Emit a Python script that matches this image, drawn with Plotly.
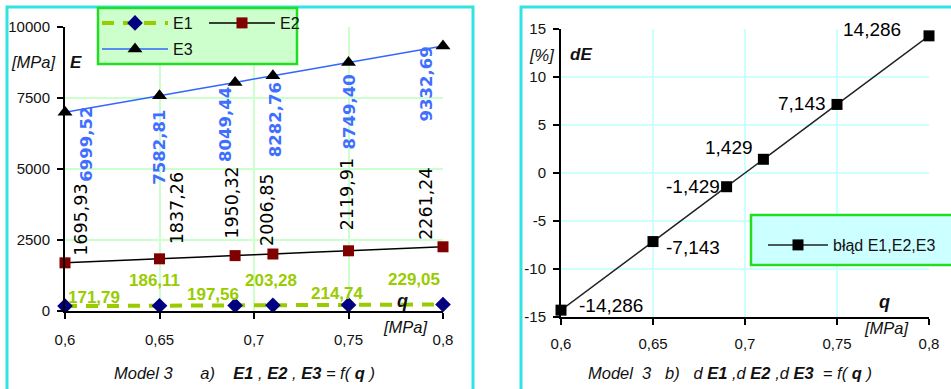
import plotly.graph_objects as go

# ---- data -------------------------------------------------------------
q = [0.6, 0.65, 0.69, 0.71, 0.75, 0.8]
E1 = [171.79, 186.11, 197.56, 203.28, 214.74, 229.05]
E2 = [1695.93, 1837.26, 1950.32, 2006.85, 2119.91, 2261.24]
E3 = [6999.52, 7582.81, 8049.44, 8282.76, 8749.40, 9332.69]
dE = [-14.286, -7.143, -1.429, 1.429, 7.143, 14.286]

x_ticks = [0.6, 0.65, 0.7, 0.75, 0.8]
x_tick_text = ["0,6", "0,65", "0,7", "0,75", "0,8"]
y1_ticks = [0, 2500, 5000, 7500, 10000]
y1_tick_text = ["0", "2500", "5000", "7500", "10000"]
y2_ticks = [-15, -10, -5, 0, 5, 10, 15]
y2_tick_text = ["-15", "-10", "-5", "0", "5", "10", "15"]

# ---- styling -----------------------------------------------------------
W, H = 951, 389
FONT = "Liberation Sans, Arial, sans-serif"
WIDE = "DejaVu Sans, Liberation Sans, sans-serif"
CYAN = "#33e3e3"
GREEN_EDGE = "#22dd22"
C_E1 = "#99cc00"
C_E3 = "#3f6fff"

# label offsets in pixels (dx, dy)
e1_off = [(29, 9), (-5, 25), (-22, 11), (-2, 25), (-11, 11), (-29, 25)]
e2_off = [(16, 5), (17, 12), (-3, 15), (-6, 6), (-2, 18), (-17, 5)]
e3_off = [(22, 7), (0, -12), (-9, -3), (2, -4), (1, -10), (-17, 1)]
de_off = [("left", 16, 5), ("left", 11, -6), ("right", -5, 0),
          ("right", -8, 12), ("right", -9, 1), ("right", -26, 6)]


def px(x):
    return x / W


def py(y):
    return 1 - y / H


def comma(v, nd):
    return f"{v:.{nd}f}".replace(".", ",")


fig = go.Figure()

fig.add_trace(go.Scatter(
    x=q, y=E1, name="E1", mode="lines+markers", legend="legend",
    line=dict(color=C_E1, width=4, dash="12px,9px"),
    marker=dict(symbol="diamond", size=12, color="#000080"),
    cliponaxis=False, xaxis="x", yaxis="y"))
fig.add_trace(go.Scatter(
    x=q, y=E2, name="E2", mode="lines+markers", legend="legend",
    line=dict(color="black", width=1.5, shape="spline", smoothing=0.6),
    marker=dict(symbol="square", size=11, color="#800000"),
    cliponaxis=False, xaxis="x", yaxis="y"))
fig.add_trace(go.Scatter(
    x=q, y=E3, name="E3", mode="lines+markers", legend="legend2",
    line=dict(color="#3366ff", width=1.5, shape="spline", smoothing=0.6),
    marker=dict(symbol="triangle-up", size=13, color="black"),
    cliponaxis=False, xaxis="x", yaxis="y"))
fig.add_trace(go.Scatter(
    x=q, y=dE, name="błąd E1,E2,E3", mode="lines+markers", legend="legend3",
    line=dict(color="#222222", width=1.5, shape="spline", smoothing=0.4),
    marker=dict(symbol="square", size=11, color="black"),
    cliponaxis=False, xaxis="x2", yaxis="y2"))

ann = []
for xi, v, (dx, dy) in zip(q, E1, e1_off):
    ann.append(dict(x=xi, y=v, xref="x", yref="y", text=comma(v, 2),
                    showarrow=False, xanchor="center", yanchor="middle",
                    xshift=dx, yshift=dy,
                    font=dict(family=FONT, size=17, color=C_E1, weight="bold")))
for xi, v, (dx, dy) in zip(q, E2, e2_off):
    ann.append(dict(x=xi, y=v, xref="x", yref="y", text=comma(v, 2),
                    showarrow=False, textangle=-90, xanchor="center",
                    yanchor="bottom", xshift=dx, yshift=dy,
                    font=dict(family=WIDE, size=17.5, color="black")))
for xi, v, (dx, dy) in zip(q, E3, e3_off):
    ann.append(dict(x=xi, y=v, xref="x", yref="y", text=comma(v, 2),
                    showarrow=False, textangle=-90, xanchor="center",
                    yanchor="top", xshift=dx, yshift=dy,
                    font=dict(family=WIDE, size=16.5, color=C_E3, weight="bold")))
for xi, v, (anc, dx, dy) in zip(q, dE, de_off):
    ann.append(dict(x=xi, y=v, xref="x2", yref="y2", text=comma(v, 3),
                    showarrow=False, xanchor=anc, yanchor="middle",
                    xshift=dx, yshift=dy,
                    font=dict(family=FONT, size=19, color="black")))


def label(x, y, text, size=17, anchor="center"):
    ann.append(dict(x=px(x), y=py(y), xref="paper", yref="paper", text=text,
                    showarrow=False, xanchor=anchor, yanchor="middle",
                    font=dict(family=FONT, size=size, color="#111111")))


NB = "\u00a0"
label(33, 62, "<i>[MPa]</i>", 16.5)
label(76, 62, "<b><i>E</i></b>", 17)
label(402, 301, "<b><i>q</i></b>", 18)
label(405, 327, "<i>[MPa]</i>", 16.5)
label(244, 373, "<i>Model 3" + NB * 6 + "a)" + NB * 4 + "<b>E1</b>" + NB + "," + NB
      + "<b>E2</b>" + NB + "," + NB + "<b>E3</b>" + NB + "=" + NB + "f(" + NB
      + "<b>q</b>" + NB + ")</i>", 16.5)
label(541, 55, "<i>[%]</i>", 16.5)
label(581, 55, "<b><i>dE</i></b>", 17)
label(884, 302, "<b><i>q</i></b>", 18)
label(886, 328, "<i>[MPa]</i>", 16.5)
label(730, 373, "<i>Model" + NB * 2 + "3" + NB * 3 + "b)" + NB * 3 + "d" + NB + "<b>E1</b>"
      + NB + ",d" + NB + "<b>E2</b>" + NB + ",d" + NB + "<b>E3</b>" + NB * 2 + "="
      + NB + "f(" + NB + "<b>q</b>" + NB + ")</i>", 16.5)


def rect(x0, y0, x1, y1, line, fill="rgba(0,0,0,0)", width=3):
    return dict(type="rect", xref="paper", yref="paper",
                x0=px(x0), x1=px(x1), y0=py(y1), y1=py(y0),
                line=dict(color=line, width=width), fillcolor=fill, layer="above")


shapes = [
    rect(7, 7, 473, 420, CYAN),
    rect(521, 7, 1000, 420, CYAN),
    rect(98, 8, 297, 64, GREEN_EDGE, "#ccffcc", 2.5),
    rect(751, 215, 1000, 265, GREEN_EDGE, "#ccffff", 2.5),
]

axis_common = dict(showline=True, linecolor="black", linewidth=2,
                   ticks="outside", ticklen=6, tickwidth=1.5, tickcolor="black",
                   showgrid=True, gridwidth=2, zeroline=False,
                   tickfont=dict(family=FONT, size=15, color="#111111"))

legend_common = dict(orientation="h", bgcolor="rgba(0,0,0,0)", borderwidth=0,
                     xanchor="left", yanchor="top",
                     font=dict(family=FONT, size=16, color="#111111"))

fig.update_layout(
    width=W, height=H, autosize=False,
    margin=dict(l=0, r=0, t=0, b=0, autoexpand=False),
    paper_bgcolor="white", plot_bgcolor="white",
    xaxis=dict(domain=[px(65), px(443)], range=[0.6, 0.8], anchor="y",
               tickvals=x_ticks, ticktext=x_tick_text, gridcolor="#ccffcc",
               ticklabelstandoff=8, **axis_common),
    yaxis=dict(domain=[py(311), py(27)], range=[0, 10000], anchor="x",
               tickvals=y1_ticks, ticktext=y1_tick_text, gridcolor="#ccffcc",
               ticklabelstandoff=4, **axis_common),
    xaxis2=dict(domain=[px(561), px(929)], range=[0.6, 0.8], anchor="y2",
                tickvals=x_ticks, ticktext=x_tick_text, gridcolor="#ccffff",
                ticklabelstandoff=6, **axis_common),
    yaxis2=dict(domain=[py(317), py(29)], range=[-15, 15], anchor="x2",
                tickvals=y2_ticks, ticktext=y2_tick_text, gridcolor="#ccffff",
                ticklabelstandoff=4, **axis_common),
    legend=dict(x=px(97), y=py(6), entrywidth=26, itemwidth=66, **legend_common),
    legend2=dict(x=px(97), y=py(32), itemwidth=66, **legend_common),
    legend3=dict(x=px(763), y=py(228), itemwidth=60, **legend_common),
    annotations=ann,
    shapes=shapes,
    showlegend=True,
)

fig.write_html("out.html")
